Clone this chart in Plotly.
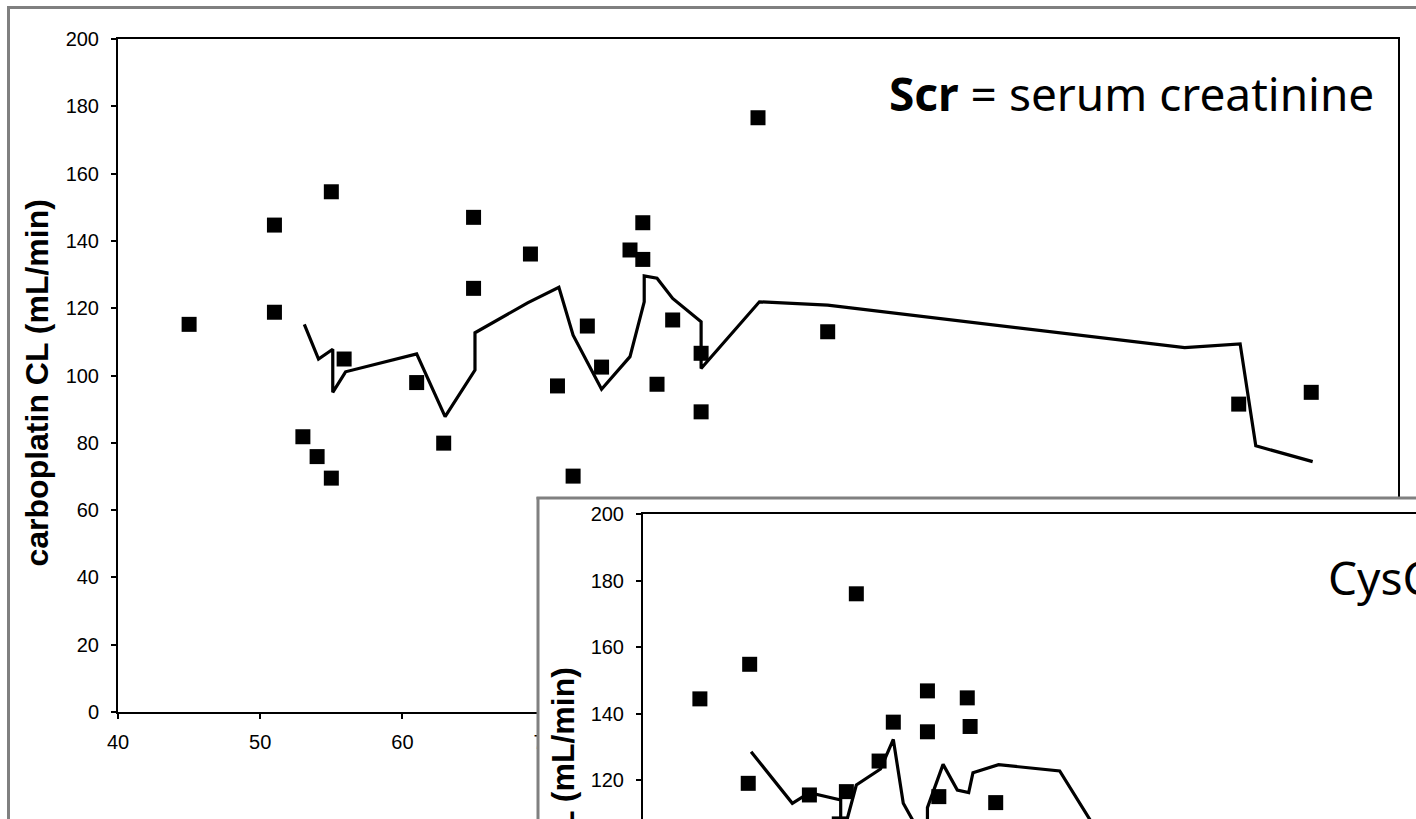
import plotly.graph_objects as go

W, H = 1416, 819

# ---------------- data ----------------
# Main panel: observed carboplatin CL (squares) and predicted line (Scr based)
scr_obs_x = [45.0, 51.0, 51.0, 53.0, 54.0, 55.0, 55.0, 55.9, 61.0, 62.9, 65.0, 65.0, 69.0, 70.9,
             72.0, 73.0, 74.0, 76.0, 76.9, 76.9, 77.9, 79.0, 81.0, 81.0, 85.0, 89.9, 118.8, 123.9]
scr_obs_y = [115.2, 144.7, 118.8, 81.8, 75.9, 154.6, 69.5, 104.9, 97.9, 79.9, 147.0, 125.9, 136.1, 96.9,
             70.1, 114.7, 102.5, 137.3, 145.4, 134.5, 97.4, 116.5, 106.6, 89.2, 176.6, 113.0, 91.5, 95.0]

scr_pred_x = [53.1, 54.1, 55.1, 55.1, 56.0, 61.0, 63.0, 65.1, 65.1, 68.8, 71.0, 72.0, 74.0, 76.0, 77.0,
              77.0, 77.9, 79.0, 81.0, 81.0, 85.1, 89.9, 115.0, 118.9, 120.0, 124.0]
scr_pred_y = [115.2, 104.9, 107.8, 95.0, 101.1, 106.4, 87.8, 101.6, 112.7, 121.6, 126.2, 112.0, 95.9, 105.6, 121.9,
              129.6, 128.9, 122.9, 116.0, 102.1, 121.9, 120.9, 108.3, 109.4, 79.1, 74.4]

# Inset panel (CysC based)
cysc_obs_x = [44.0, 47.5, 55.0, 47.4, 57.6, 60.0, 60.0, 56.6, 51.7, 54.3, 62.8, 63.0, 60.8, 64.8, 53.8]
cysc_obs_y = [144.4, 154.8, 176.0, 119.0, 137.4, 146.8, 134.5, 125.7, 115.5, 116.5, 144.7, 136.1, 115.0, 113.2, 106.8]

cysc_pred_x = [47.6, 50.5, 51.7, 53.9, 53.9, 55.0, 56.7, 57.6, 58.3, 60.0, 60.0, 61.1, 62.1, 62.9, 63.2, 65.0, 69.3, 72.6]
cysc_pred_y = [128.5, 113.0, 116.2, 114.0, 101.0, 118.5, 123.3, 132.2, 113.0, 100.0, 111.7, 124.7, 117.0, 116.2,
               122.2, 124.6, 122.7, 100.0]

main_x_ticks = [40, 50, 60, 70, 80, 90, 100, 110, 120, 130]
main_y_ticks = [0, 20, 40, 60, 80, 100, 120, 140, 160, 180, 200]
inset_y_ticks = [120, 140, 160, 180, 200]

y_title = "carboplatin CL (mL/min)"
main_label = "<b>Scr</b> = serum creatinine"
inset_label = "CysC = cystatin C"

# ---------------- figure ----------------
TICK_FONT = dict(family="Arial, Liberation Sans, sans-serif", size=20, color="black")
TITLE_FONT = dict(family="Arial, Liberation Sans, sans-serif", size=32, color="black")
NOTE_FONT = dict(family="Noto Sans, Open Sans, sans-serif", size=46, color="black")

fig = go.Figure()

fig.add_trace(go.Scatter(x=scr_pred_x, y=scr_pred_y, mode="lines",
                         line=dict(color="black", width=3.2), xaxis="x", yaxis="y",
                         showlegend=False, hoverinfo="skip"))
fig.add_trace(go.Scatter(x=scr_obs_x, y=scr_obs_y, mode="markers",
                         marker=dict(symbol="square", size=15, color="black", line=dict(width=0)),
                         xaxis="x", yaxis="y", showlegend=False))

# blank white panel that hides the lower right of the main chart
fig.add_trace(go.Scatter(x=[None], y=[None], mode="markers", xaxis="x2", yaxis="y2",
                         showlegend=False, hoverinfo="skip"))

fig.add_trace(go.Scatter(x=cysc_pred_x, y=cysc_pred_y, mode="lines",
                         line=dict(color="black", width=3.2), xaxis="x3", yaxis="y3",
                         showlegend=False, hoverinfo="skip"))
fig.add_trace(go.Scatter(x=cysc_obs_x, y=cysc_obs_y, mode="markers",
                         marker=dict(symbol="square", size=15, color="black", line=dict(width=0)),
                         xaxis="x3", yaxis="y3", showlegend=False))

main_px_per_x = (1398 - 118) / 90.0
inset_px_per_y = (780 - 514) / 80.0

axis_common = dict(showgrid=False, zeroline=False, showline=True, linecolor="black", linewidth=2,
                   ticks="outside", ticklen=5, tickwidth=1.5, tickcolor="black", tickfont=TICK_FONT)

fig.update_layout(
    width=W, height=H, autosize=False,
    margin=dict(l=0, r=0, t=0, b=0, pad=0, autoexpand=False),
    paper_bgcolor="white", plot_bgcolor="white",
    xaxis=dict(domain=[118 / W, 1398 / W], range=[40, 130], tickmode="array",
               tickvals=main_x_ticks, ticktext=[str(v) for v in main_x_ticks],
               mirror=True, anchor="y", ticklabelstandoff=6, **axis_common),
    yaxis=dict(domain=[1 - 712 / H, 1 - 39 / H], range=[0, 200], tickmode="array",
               tickvals=main_y_ticks, ticktext=[str(v) for v in main_y_ticks],
               mirror=True, anchor="x", ticklabelstandoff=8, **axis_common),
    xaxis2=dict(domain=[537 / W, 1], range=[0, 1], showgrid=False, zeroline=False, showline=False,
                showticklabels=False, ticks="", anchor="y2"),
    yaxis2=dict(domain=[0, 1 - 497 / H], range=[0, 1], showgrid=False, zeroline=False, showline=False,
                showticklabels=False, ticks="", anchor="x2"),
    xaxis3=dict(domain=[643 / W, 1], range=[40, 40 + (W - 643) / main_px_per_x], side="top",
                showgrid=False, zeroline=False, showline=True, linecolor="black", linewidth=2,
                ticks="", showticklabels=False, anchor="y3"),
    yaxis3=dict(domain=[0, 1 - 514 / H], range=[200 - (H - 514) / inset_px_per_y, 200], tickmode="array",
                tickvals=inset_y_ticks, ticktext=[str(v) for v in inset_y_ticks],
                anchor="x3", ticklabelstandoff=8, **axis_common),
)

gray = "#808080"
fig.add_shape(type="line", xref="paper", yref="paper", x0=8.5 / W, x1=8.5 / W, y0=1 - 7 / H, y1=-0.05,
              line=dict(color=gray, width=3), layer="above")
fig.add_shape(type="line", xref="paper", yref="paper", x0=7 / W, x1=1.05, y0=1 - 7.5 / H, y1=1 - 7.5 / H,
              line=dict(color=gray, width=3), layer="above")
fig.add_shape(type="line", xref="paper", yref="paper", x0=538 / W, x1=538 / W, y0=1 - 497 / H, y1=-0.05,
              line=dict(color=gray, width=3), layer="above")
fig.add_shape(type="line", xref="paper", yref="paper", x0=536.5 / W, x1=1.05, y0=1 - 498 / H, y1=1 - 498 / H,
              line=dict(color=gray, width=3), layer="above")

fig.add_annotation(text=main_label, xref="paper", yref="paper", x=1131 / W, y=1 - 93 / H,
                   xanchor="center", yanchor="middle", showarrow=False, font=NOTE_FONT)
fig.add_annotation(text=inset_label, xref="paper", yref="paper", x=1326 / W, y=1 - 577 / H,
                   xanchor="left", yanchor="middle", showarrow=False, font=NOTE_FONT)
fig.add_annotation(text="<b>" + y_title + "</b>", xref="paper", yref="paper", x=36 / W, y=1 - 383.5 / H,
                   xanchor="center", yanchor="middle", textangle=-90, showarrow=False, font=TITLE_FONT)
fig.add_annotation(text="<b>" + y_title + "</b>", xref="paper", yref="paper", x=562.5 / W, y=1 - 851 / H,
                   xanchor="center", yanchor="middle", textangle=-90, showarrow=False, font=TITLE_FONT)

fig.write_html("out.html")
